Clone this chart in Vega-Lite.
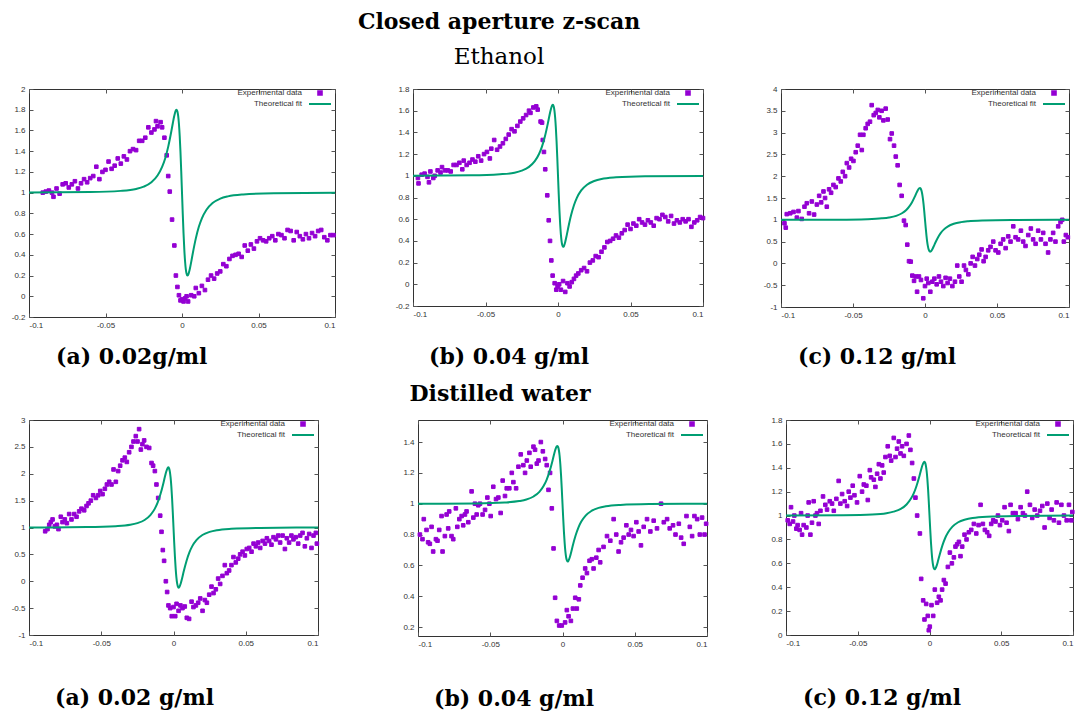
{
"$schema": "https://vega.github.io/schema/vega-lite/v6.json",
"background": "white",
"padding": {"left": 4, "top": 10, "right": 0, "bottom": 0},
"title": {"text": "Closed aperture z-scan", "subtitle": "Ethanol", "orient": "top", "anchor": "middle", "font": "DejaVu Serif", "fontSize": 22, "fontWeight": "bold", "color": "black", "subtitleFont": "DejaVu Serif", "subtitleFontSize": 23, "subtitleFontWeight": "normal", "subtitleColor": "black", "subtitlePadding": 12, "dx": -42, "offset": 15},
"datasets": {
"e1": [{"z":-0.091,"T":1.0},{"z":-0.089,"T":1.01},{"z":-0.087,"T":1.02},{"z":-0.085,"T":1.0},{"z":-0.084,"T":0.96},{"z":-0.082,"T":1.04},{"z":-0.08,"T":0.99},{"z":-0.078,"T":1.08},{"z":-0.076,"T":1.09},{"z":-0.074,"T":1.05},{"z":-0.072,"T":1.08},{"z":-0.07,"T":1.11},{"z":-0.068,"T":1.04},{"z":-0.066,"T":1.09},{"z":-0.064,"T":1.13},{"z":-0.062,"T":1.1},{"z":-0.06,"T":1.14},{"z":-0.058,"T":1.16},{"z":-0.056,"T":1.25},{"z":-0.054,"T":1.13},{"z":-0.052,"T":1.2},{"z":-0.05,"T":1.22},{"z":-0.048,"T":1.3},{"z":-0.046,"T":1.23},{"z":-0.044,"T":1.26},{"z":-0.042,"T":1.33},{"z":-0.04,"T":1.28},{"z":-0.038,"T":1.35},{"z":-0.036,"T":1.32},{"z":-0.034,"T":1.4},{"z":-0.032,"T":1.42},{"z":-0.03,"T":1.41},{"z":-0.028,"T":1.5},{"z":-0.026,"T":1.5},{"z":-0.024,"T":1.53},{"z":-0.022,"T":1.63},{"z":-0.02,"T":1.58},{"z":-0.018,"T":1.61},{"z":-0.017,"T":1.69},{"z":-0.016,"T":1.64},{"z":-0.014,"T":1.68},{"z":-0.013,"T":1.63},{"z":-0.0115,"T":1.53},{"z":-0.01,"T":1.36},{"z":-0.009,"T":1.16},{"z":-0.008,"T":1.01},{"z":-0.0065,"T":0.74},{"z":-0.005,"T":0.49},{"z":-0.004,"T":0.2},{"z":-0.003,"T":0.09},{"z":-0.002,"T":0.01},{"z":-0.001,"T":-0.04},{"z":0.0,"T":-0.03},{"z":0.001,"T":-0.05},{"z":0.002,"T":-0.02},{"z":0.003,"T":0.0},{"z":0.004,"T":-0.05},{"z":0.006,"T":0.01},{"z":0.008,"T":0.0},{"z":0.009,"T":0.08},{"z":0.011,"T":0.03},{"z":0.013,"T":0.1},{"z":0.015,"T":0.06},{"z":0.017,"T":0.16},{"z":0.019,"T":0.2},{"z":0.021,"T":0.17},{"z":0.023,"T":0.22},{"z":0.025,"T":0.24},{"z":0.027,"T":0.31},{"z":0.029,"T":0.29},{"z":0.031,"T":0.36},{"z":0.033,"T":0.39},{"z":0.035,"T":0.4},{"z":0.037,"T":0.41},{"z":0.039,"T":0.38},{"z":0.041,"T":0.49},{"z":0.043,"T":0.44},{"z":0.045,"T":0.5},{"z":0.047,"T":0.46},{"z":0.049,"T":0.53},{"z":0.051,"T":0.56},{"z":0.053,"T":0.54},{"z":0.055,"T":0.53},{"z":0.057,"T":0.56},{"z":0.059,"T":0.58},{"z":0.061,"T":0.54},{"z":0.063,"T":0.6},{"z":0.065,"T":0.59},{"z":0.067,"T":0.56},{"z":0.069,"T":0.64},{"z":0.071,"T":0.63},{"z":0.073,"T":0.54},{"z":0.075,"T":0.62},{"z":0.077,"T":0.58},{"z":0.079,"T":0.55},{"z":0.081,"T":0.6},{"z":0.083,"T":0.56},{"z":0.085,"T":0.61},{"z":0.087,"T":0.58},{"z":0.089,"T":0.63},{"z":0.091,"T":0.64},{"z":0.093,"T":0.57},{"z":0.095,"T":0.54},{"z":0.097,"T":0.59},{"z":0.099,"T":0.59}],
"e2": [{"z":-0.0966,"T":0.98},{"z":-0.0962,"T":0.93},{"z":-0.094,"T":1.01},{"z":-0.092,"T":1.02},{"z":-0.09,"T":0.99},{"z":-0.089,"T":0.94},{"z":-0.088,"T":1.04},{"z":-0.086,"T":0.98},{"z":-0.085,"T":1.0},{"z":-0.083,"T":1.05},{"z":-0.081,"T":1.03},{"z":-0.08,"T":1.08},{"z":-0.078,"T":1.05},{"z":-0.076,"T":1.05},{"z":-0.074,"T":1.04},{"z":-0.072,"T":1.1},{"z":-0.07,"T":1.1},{"z":-0.068,"T":1.12},{"z":-0.066,"T":1.06},{"z":-0.065,"T":1.14},{"z":-0.063,"T":1.1},{"z":-0.061,"T":1.12},{"z":-0.059,"T":1.15},{"z":-0.057,"T":1.13},{"z":-0.055,"T":1.18},{"z":-0.053,"T":1.14},{"z":-0.051,"T":1.2},{"z":-0.049,"T":1.22},{"z":-0.047,"T":1.16},{"z":-0.046,"T":1.25},{"z":-0.044,"T":1.33},{"z":-0.042,"T":1.24},{"z":-0.04,"T":1.27},{"z":-0.038,"T":1.3},{"z":-0.036,"T":1.34},{"z":-0.034,"T":1.38},{"z":-0.032,"T":1.43},{"z":-0.03,"T":1.41},{"z":-0.028,"T":1.46},{"z":-0.026,"T":1.5},{"z":-0.024,"T":1.53},{"z":-0.022,"T":1.56},{"z":-0.02,"T":1.6},{"z":-0.019,"T":1.58},{"z":-0.017,"T":1.63},{"z":-0.015,"T":1.64},{"z":-0.014,"T":1.61},{"z":-0.012,"T":1.5},{"z":-0.011,"T":1.49},{"z":-0.0105,"T":1.33},{"z":-0.0097,"T":1.22},{"z":-0.0088,"T":1.06},{"z":-0.0074,"T":0.82},{"z":-0.0064,"T":0.59},{"z":-0.0055,"T":0.4},{"z":-0.0046,"T":0.22},{"z":-0.0037,"T":0.08},{"z":-0.0023,"T":0.01},{"z":-0.0012,"T":-0.05},{"z":-0.0003,"T":-0.02},{"z":0.0008,"T":0.0},{"z":0.002,"T":-0.05},{"z":0.0035,"T":0.03},{"z":0.005,"T":-0.07},{"z":0.0065,"T":0.01},{"z":0.008,"T":-0.02},{"z":0.0095,"T":0.02},{"z":0.011,"T":0.05},{"z":0.0125,"T":0.08},{"z":0.014,"T":0.1},{"z":0.016,"T":0.13},{"z":0.018,"T":0.15},{"z":0.02,"T":0.12},{"z":0.022,"T":0.2},{"z":0.024,"T":0.22},{"z":0.026,"T":0.26},{"z":0.028,"T":0.25},{"z":0.03,"T":0.3},{"z":0.032,"T":0.34},{"z":0.034,"T":0.39},{"z":0.036,"T":0.4},{"z":0.038,"T":0.42},{"z":0.04,"T":0.45},{"z":0.042,"T":0.43},{"z":0.044,"T":0.47},{"z":0.046,"T":0.5},{"z":0.048,"T":0.55},{"z":0.05,"T":0.51},{"z":0.052,"T":0.56},{"z":0.054,"T":0.54},{"z":0.056,"T":0.6},{"z":0.058,"T":0.57},{"z":0.06,"T":0.55},{"z":0.062,"T":0.59},{"z":0.064,"T":0.57},{"z":0.066,"T":0.54},{"z":0.068,"T":0.61},{"z":0.07,"T":0.6},{"z":0.072,"T":0.64},{"z":0.074,"T":0.62},{"z":0.076,"T":0.58},{"z":0.078,"T":0.63},{"z":0.08,"T":0.56},{"z":0.082,"T":0.59},{"z":0.084,"T":0.57},{"z":0.086,"T":0.6},{"z":0.088,"T":0.58},{"z":0.09,"T":0.6},{"z":0.092,"T":0.53},{"z":0.094,"T":0.57},{"z":0.096,"T":0.59},{"z":0.098,"T":0.62},{"z":0.1,"T":0.61}],
"e3": [{"z":-0.0976,"T":0.92},{"z":-0.0967,"T":0.82},{"z":-0.096,"T":1.13},{"z":-0.0936,"T":1.15},{"z":-0.0913,"T":1.18},{"z":-0.089,"T":1.05},{"z":-0.0879,"T":1.2},{"z":-0.0856,"T":1.02},{"z":-0.0837,"T":1.3},{"z":-0.0821,"T":1.38},{"z":-0.0805,"T":1.15},{"z":-0.0786,"T":1.42},{"z":-0.077,"T":1.12},{"z":-0.0751,"T":1.35},{"z":-0.0735,"T":1.55},{"z":-0.0721,"T":1.4},{"z":-0.0705,"T":1.65},{"z":-0.0694,"T":1.5},{"z":-0.0682,"T":1.3},{"z":-0.0666,"T":1.7},{"z":-0.0652,"T":1.62},{"z":-0.0636,"T":1.8},{"z":-0.062,"T":1.75},{"z":-0.0601,"T":1.95},{"z":-0.0585,"T":1.88},{"z":-0.0571,"T":2.1},{"z":-0.0555,"T":2.0},{"z":-0.0543,"T":2.3},{"z":-0.0527,"T":2.2},{"z":-0.0513,"T":2.4},{"z":-0.0497,"T":2.35},{"z":-0.0481,"T":2.55},{"z":-0.0467,"T":2.7},{"z":-0.0451,"T":2.95},{"z":-0.0439,"T":2.6},{"z":-0.0428,"T":2.95},{"z":-0.0412,"T":3.1},{"z":-0.0398,"T":3.2},{"z":-0.0382,"T":3.25},{"z":-0.037,"T":3.63},{"z":-0.0356,"T":3.4},{"z":-0.0342,"T":3.45},{"z":-0.0328,"T":3.52},{"z":-0.0317,"T":3.35},{"z":-0.0301,"T":3.5},{"z":-0.0289,"T":3.28},{"z":-0.0273,"T":3.55},{"z":-0.0259,"T":3.3},{"z":-0.0243,"T":2.85},{"z":-0.0231,"T":2.98},{"z":-0.0215,"T":2.7},{"z":-0.0203,"T":2.45},{"z":-0.019,"T":2.25},{"z":-0.0176,"T":1.8},{"z":-0.0162,"T":1.55},{"z":-0.0146,"T":0.98},{"z":-0.0134,"T":0.88},{"z":-0.0123,"T":0.43},{"z":-0.0111,"T":0.05},{"z":-0.0099,"T":0.04},{"z":-0.0088,"T":-0.28},{"z":-0.0076,"T":-0.4},{"z":-0.0065,"T":-0.3},{"z":-0.0055,"T":-0.65},{"z":-0.0042,"T":-0.3},{"z":-0.0028,"T":-0.38},{"z":-0.0012,"T":-0.8},{"z":0.0,"T":-0.52},{"z":0.0012,"T":-0.35},{"z":0.0023,"T":-0.45},{"z":0.0037,"T":-0.65},{"z":0.0051,"T":-0.42},{"z":0.0065,"T":-0.35},{"z":0.0081,"T":-0.48},{"z":0.0097,"T":-0.3},{"z":0.0111,"T":-0.42},{"z":0.0127,"T":-0.52},{"z":0.0143,"T":-0.33},{"z":0.0157,"T":-0.45},{"z":0.0173,"T":-0.35},{"z":0.019,"T":-0.52},{"z":0.0208,"T":-0.42},{"z":0.0224,"T":-0.05},{"z":0.0238,"T":-0.3},{"z":0.0254,"T":-0.42},{"z":0.0271,"T":-0.05},{"z":0.0284,"T":-0.15},{"z":0.0301,"T":-0.25},{"z":0.0317,"T":0.0},{"z":0.0331,"T":0.15},{"z":0.0347,"T":-0.05},{"z":0.0363,"T":0.1},{"z":0.0377,"T":0.2},{"z":0.0393,"T":0.32},{"z":0.0407,"T":0.05},{"z":0.0421,"T":0.15},{"z":0.0439,"T":0.3},{"z":0.0455,"T":0.38},{"z":0.0474,"T":0.5},{"z":0.049,"T":0.3},{"z":0.0509,"T":0.25},{"z":0.0525,"T":0.45},{"z":0.0543,"T":0.55},{"z":0.056,"T":0.35},{"z":0.0578,"T":0.62},{"z":0.0594,"T":0.5},{"z":0.0613,"T":0.85},{"z":0.0629,"T":0.6},{"z":0.0647,"T":0.55},{"z":0.0666,"T":0.75},{"z":0.0682,"T":0.5},{"z":0.0698,"T":0.4},{"z":0.0717,"T":0.65},{"z":0.0735,"T":0.8},{"z":0.0751,"T":0.55},{"z":0.0768,"T":0.45},{"z":0.0786,"T":0.75},{"z":0.0805,"T":0.55},{"z":0.0821,"T":0.7},{"z":0.0837,"T":0.45},{"z":0.0855,"T":0.25},{"z":0.0871,"T":0.55},{"z":0.089,"T":0.7},{"z":0.0906,"T":0.5},{"z":0.0925,"T":0.85},{"z":0.0941,"T":0.95},{"z":0.0953,"T":1.0},{"z":0.0964,"T":0.5},{"z":0.0978,"T":0.65},{"z":0.0992,"T":0.6}],
"e4": [{"z":-0.0888,"T":0.93},{"z":-0.0872,"T":0.97},{"z":-0.086,"T":1.05},{"z":-0.0849,"T":1.1},{"z":-0.0837,"T":1.15},{"z":-0.0821,"T":1.02},{"z":-0.0807,"T":1.05},{"z":-0.0796,"T":0.97},{"z":-0.078,"T":1.2},{"z":-0.0768,"T":1.1},{"z":-0.0752,"T":1.15},{"z":-0.0738,"T":1.08},{"z":-0.0722,"T":1.25},{"z":-0.0706,"T":1.15},{"z":-0.0687,"T":1.25},{"z":-0.0671,"T":1.2},{"z":-0.0653,"T":1.3},{"z":-0.0637,"T":1.35},{"z":-0.0618,"T":1.32},{"z":-0.0602,"T":1.4},{"z":-0.0588,"T":1.45},{"z":-0.0572,"T":1.5},{"z":-0.0556,"T":1.6},{"z":-0.0537,"T":1.55},{"z":-0.0521,"T":1.6},{"z":-0.0507,"T":1.68},{"z":-0.0491,"T":1.62},{"z":-0.0475,"T":1.72},{"z":-0.0461,"T":1.8},{"z":-0.0445,"T":1.85},{"z":-0.0429,"T":1.8},{"z":-0.0415,"T":2.08},{"z":-0.0399,"T":1.85},{"z":-0.0383,"T":2.05},{"z":-0.0369,"T":2.15},{"z":-0.0353,"T":2.25},{"z":-0.0337,"T":2.3},{"z":-0.0323,"T":2.22},{"z":-0.0307,"T":2.4},{"z":-0.0291,"T":2.5},{"z":-0.0277,"T":2.6},{"z":-0.0261,"T":2.7},{"z":-0.0249,"T":2.6},{"z":-0.0238,"T":2.83},{"z":-0.0226,"T":2.45},{"z":-0.0215,"T":2.55},{"z":-0.0203,"T":2.62},{"z":-0.0187,"T":2.5},{"z":-0.0168,"T":2.48},{"z":-0.0152,"T":2.2},{"z":-0.0141,"T":2.15},{"z":-0.0129,"T":2.05},{"z":-0.0118,"T":1.8},{"z":-0.0106,"T":1.55},{"z":-0.0092,"T":1.22},{"z":-0.0083,"T":0.92},{"z":-0.0074,"T":0.58},{"z":-0.0065,"T":0.38},{"z":-0.0053,"T":0.0},{"z":-0.0044,"T":-0.2},{"z":-0.0035,"T":-0.45},{"z":-0.0023,"T":-0.5},{"z":-0.0012,"T":-0.65},{"z":0.0,"T":-0.48},{"z":0.0012,"T":-0.65},{"z":0.0021,"T":-0.42},{"z":0.0035,"T":-0.55},{"z":0.0048,"T":-0.45},{"z":0.0062,"T":-0.5},{"z":0.0078,"T":-0.47},{"z":0.0092,"T":-0.68},{"z":0.0108,"T":-0.7},{"z":0.0125,"T":-0.38},{"z":0.0138,"T":-0.48},{"z":0.0155,"T":-0.45},{"z":0.0171,"T":-0.4},{"z":0.0185,"T":-0.32},{"z":0.0201,"T":-0.55},{"z":0.0217,"T":-0.35},{"z":0.0231,"T":-0.4},{"z":0.0247,"T":-0.25},{"z":0.0263,"T":-0.1},{"z":0.0277,"T":-0.22},{"z":0.0293,"T":-0.15},{"z":0.0309,"T":0.05},{"z":0.0323,"T":-0.05},{"z":0.0339,"T":0.1},{"z":0.0355,"T":0.3},{"z":0.0369,"T":0.15},{"z":0.0385,"T":0.2},{"z":0.0401,"T":0.3},{"z":0.0415,"T":0.45},{"z":0.0431,"T":0.35},{"z":0.0448,"T":0.42},{"z":0.0461,"T":0.5},{"z":0.0478,"T":0.55},{"z":0.0494,"T":0.48},{"z":0.0507,"T":0.6},{"z":0.0524,"T":0.62},{"z":0.054,"T":0.55},{"z":0.0554,"T":0.7},{"z":0.057,"T":0.65},{"z":0.0586,"T":0.72},{"z":0.06,"T":0.62},{"z":0.0617,"T":0.75},{"z":0.0633,"T":0.7},{"z":0.0646,"T":0.8},{"z":0.0662,"T":0.75},{"z":0.0678,"T":0.68},{"z":0.0692,"T":0.82},{"z":0.0709,"T":0.78},{"z":0.0725,"T":0.85},{"z":0.0738,"T":0.72},{"z":0.0755,"T":0.85},{"z":0.0771,"T":0.6},{"z":0.0784,"T":0.8},{"z":0.08,"T":0.72},{"z":0.0816,"T":0.85},{"z":0.083,"T":0.78},{"z":0.0846,"T":0.82},{"z":0.0863,"T":0.7},{"z":0.0877,"T":0.85},{"z":0.0893,"T":0.9},{"z":0.0909,"T":0.65},{"z":0.0923,"T":0.8},{"z":0.0939,"T":0.88},{"z":0.0955,"T":0.62},{"z":0.0969,"T":0.85},{"z":0.0985,"T":0.9},{"z":0.0992,"T":0.7}],
"e5": [{"z":-0.0987,"T":0.8},{"z":-0.0969,"T":0.77},{"z":-0.096,"T":0.9},{"z":-0.0941,"T":0.83},{"z":-0.093,"T":0.75},{"z":-0.0918,"T":0.74},{"z":-0.0906,"T":0.85},{"z":-0.0895,"T":0.69},{"z":-0.0876,"T":0.77},{"z":-0.0865,"T":0.76},{"z":-0.0853,"T":0.83},{"z":-0.0837,"T":0.92},{"z":-0.083,"T":0.69},{"z":-0.0814,"T":0.79},{"z":-0.0802,"T":0.93},{"z":-0.0791,"T":0.84},{"z":-0.0784,"T":0.95},{"z":-0.0768,"T":0.79},{"z":-0.0756,"T":0.77},{"z":-0.0738,"T":0.97},{"z":-0.0728,"T":0.85},{"z":-0.0714,"T":0.9},{"z":-0.0698,"T":0.92},{"z":-0.0687,"T":0.86},{"z":-0.0675,"T":0.93},{"z":-0.0664,"T":0.95},{"z":-0.0652,"T":0.88},{"z":-0.0629,"T":1.08},{"z":-0.0617,"T":0.91},{"z":-0.0606,"T":1.0},{"z":-0.0594,"T":0.93},{"z":-0.0583,"T":0.99},{"z":-0.0571,"T":1.0},{"z":-0.0553,"T":0.93},{"z":-0.0536,"T":0.96},{"z":-0.052,"T":1.04},{"z":-0.0506,"T":1.0},{"z":-0.0497,"T":0.92},{"z":-0.0479,"T":1.11},{"z":-0.046,"T":1.03},{"z":-0.0444,"T":1.04},{"z":-0.0428,"T":0.94},{"z":-0.0414,"T":1.15},{"z":-0.0398,"T":1.05},{"z":-0.0386,"T":1.1},{"z":-0.0368,"T":1.1},{"z":-0.0351,"T":1.2},{"z":-0.034,"T":1.14},{"z":-0.0321,"T":1.1},{"z":-0.0305,"T":1.24},{"z":-0.0289,"T":1.32},{"z":-0.0271,"T":1.25},{"z":-0.0259,"T":1.2},{"z":-0.0247,"T":1.28},{"z":-0.0229,"T":1.33},{"z":-0.022,"T":1.24},{"z":-0.0201,"T":1.37},{"z":-0.019,"T":1.35},{"z":-0.0178,"T":1.26},{"z":-0.0166,"T":1.28},{"z":-0.015,"T":1.4},{"z":-0.0136,"T":1.34},{"z":-0.012,"T":1.29},{"z":-0.0109,"T":1.25},{"z":-0.0097,"T":1.09},{"z":-0.0086,"T":1.2},{"z":-0.0074,"T":0.97},{"z":-0.0062,"T":0.71},{"z":-0.0051,"T":0.39},{"z":-0.0039,"T":0.24},{"z":-0.0023,"T":0.21},{"z":-0.0005,"T":0.21},{"z":0.0018,"T":0.23},{"z":0.003,"T":0.31},{"z":0.0042,"T":0.27},{"z":0.0058,"T":0.24},{"z":0.0072,"T":0.32},{"z":0.0088,"T":0.39},{"z":0.0099,"T":0.32},{"z":0.0113,"T":0.38},{"z":0.0123,"T":0.47},{"z":0.0139,"T":0.52},{"z":0.0157,"T":0.58},{"z":0.0169,"T":0.55},{"z":0.0187,"T":0.63},{"z":0.0203,"T":0.64},{"z":0.0215,"T":0.58},{"z":0.0234,"T":0.65},{"z":0.025,"T":0.7},{"z":0.0261,"T":0.62},{"z":0.0284,"T":0.72},{"z":0.0308,"T":0.79},{"z":0.0331,"T":0.76},{"z":0.0354,"T":0.9},{"z":0.0372,"T":0.8},{"z":0.0388,"T":0.69},{"z":0.0405,"T":0.75},{"z":0.0423,"T":0.78},{"z":0.0442,"T":0.86},{"z":0.0458,"T":0.8},{"z":0.0474,"T":0.83},{"z":0.0492,"T":0.79},{"z":0.0511,"T":0.88},{"z":0.0527,"T":0.82},{"z":0.0543,"T":0.73},{"z":0.0562,"T":0.85},{"z":0.0585,"T":0.9},{"z":0.0608,"T":0.82},{"z":0.0631,"T":0.89},{"z":0.0654,"T":0.84},{"z":0.0682,"T":1.0},{"z":0.0701,"T":0.88},{"z":0.0724,"T":0.9},{"z":0.0742,"T":0.84},{"z":0.0765,"T":0.86},{"z":0.0782,"T":0.8},{"z":0.0805,"T":0.87},{"z":0.0821,"T":0.78},{"z":0.0839,"T":0.74},{"z":0.0858,"T":0.92},{"z":0.0881,"T":0.85},{"z":0.0897,"T":0.79},{"z":0.0913,"T":0.92},{"z":0.0932,"T":0.9},{"z":0.095,"T":0.8},{"z":0.0966,"T":0.91},{"z":0.0983,"T":0.8},{"z":0.0994,"T":0.87}],
"e6": [{"z":-0.0988,"T":0.96},{"z":-0.0974,"T":0.93},{"z":-0.0965,"T":1.07},{"z":-0.0951,"T":0.95},{"z":-0.0942,"T":1.0},{"z":-0.0928,"T":0.89},{"z":-0.0919,"T":0.92},{"z":-0.0905,"T":0.88},{"z":-0.0895,"T":1.02},{"z":-0.0888,"T":0.84},{"z":-0.0877,"T":0.92},{"z":-0.0858,"T":0.9},{"z":-0.0849,"T":1.0},{"z":-0.0842,"T":1.11},{"z":-0.083,"T":0.84},{"z":-0.0819,"T":0.94},{"z":-0.0807,"T":1.12},{"z":-0.0795,"T":1.0},{"z":-0.0784,"T":1.02},{"z":-0.0772,"T":0.93},{"z":-0.076,"T":1.04},{"z":-0.0742,"T":1.16},{"z":-0.0726,"T":1.09},{"z":-0.0714,"T":1.05},{"z":-0.0695,"T":1.12},{"z":-0.0679,"T":1.1},{"z":-0.0667,"T":1.04},{"z":-0.0649,"T":1.14},{"z":-0.0633,"T":1.29},{"z":-0.0621,"T":1.1},{"z":-0.0609,"T":1.18},{"z":-0.0591,"T":1.12},{"z":-0.0574,"T":1.08},{"z":-0.0563,"T":1.2},{"z":-0.0551,"T":1.15},{"z":-0.0535,"T":1.25},{"z":-0.0523,"T":1.17},{"z":-0.0505,"T":1.11},{"z":-0.0486,"T":1.33},{"z":-0.047,"T":1.2},{"z":-0.0458,"T":1.26},{"z":-0.044,"T":1.25},{"z":-0.043,"T":1.13},{"z":-0.0416,"T":1.38},{"z":-0.0407,"T":1.32},{"z":-0.0388,"T":1.3},{"z":-0.0377,"T":1.24},{"z":-0.0365,"T":1.35},{"z":-0.0353,"T":1.43},{"z":-0.0342,"T":1.31},{"z":-0.033,"T":1.42},{"z":-0.0319,"T":1.36},{"z":-0.0307,"T":1.49},{"z":-0.0291,"T":1.58},{"z":-0.0277,"T":1.5},{"z":-0.0267,"T":1.46},{"z":-0.0249,"T":1.65},{"z":-0.0237,"T":1.49},{"z":-0.0226,"T":1.56},{"z":-0.0214,"T":1.62},{"z":-0.0202,"T":1.52},{"z":-0.0191,"T":1.58},{"z":-0.0179,"T":1.5},{"z":-0.016,"T":1.6},{"z":-0.0144,"T":1.67},{"z":-0.0133,"T":1.55},{"z":-0.0121,"T":1.44},{"z":-0.0109,"T":1.31},{"z":-0.0098,"T":1.15},{"z":-0.0086,"T":1.0},{"z":-0.0067,"T":0.85},{"z":-0.0058,"T":0.47},{"z":-0.0044,"T":0.29},{"z":-0.0035,"T":0.13},{"z":-0.0023,"T":0.26},{"z":-0.0012,"T":0.16},{"z":-0.0005,"T":0.04},{"z":0.0002,"T":0.07},{"z":0.0014,"T":0.25},{"z":0.0026,"T":0.16},{"z":0.0037,"T":0.38},{"z":0.0053,"T":0.27},{"z":0.0065,"T":0.32},{"z":0.0077,"T":0.29},{"z":0.0088,"T":0.38},{"z":0.01,"T":0.46},{"z":0.0112,"T":0.43},{"z":0.0128,"T":0.57},{"z":0.0142,"T":0.69},{"z":0.0156,"T":0.6},{"z":0.017,"T":0.65},{"z":0.0181,"T":0.74},{"z":0.0193,"T":0.76},{"z":0.0205,"T":0.78},{"z":0.0216,"T":0.66},{"z":0.0228,"T":0.74},{"z":0.0244,"T":0.84},{"z":0.0258,"T":0.8},{"z":0.0274,"T":0.86},{"z":0.0291,"T":0.88},{"z":0.0309,"T":0.93},{"z":0.0326,"T":0.85},{"z":0.0342,"T":0.92},{"z":0.0356,"T":1.09},{"z":0.0372,"T":0.93},{"z":0.0386,"T":0.88},{"z":0.0402,"T":0.86},{"z":0.0416,"T":0.83},{"z":0.043,"T":0.93},{"z":0.0444,"T":0.96},{"z":0.046,"T":0.95},{"z":0.0477,"T":1.0},{"z":0.0491,"T":0.92},{"z":0.0507,"T":0.96},{"z":0.0523,"T":1.07},{"z":0.0537,"T":0.94},{"z":0.0553,"T":0.87},{"z":0.0565,"T":1.09},{"z":0.0581,"T":1.02},{"z":0.06,"T":1.02},{"z":0.0616,"T":0.97},{"z":0.0635,"T":1.07},{"z":0.0651,"T":1.02},{"z":0.0665,"T":1.0},{"z":0.0681,"T":1.2},{"z":0.07,"T":1.09},{"z":0.0716,"T":0.98},{"z":0.0733,"T":1.05},{"z":0.0751,"T":1.0},{"z":0.077,"T":1.04},{"z":0.0786,"T":1.08},{"z":0.0802,"T":0.9},{"z":0.0821,"T":1.1},{"z":0.0837,"T":0.98},{"z":0.0851,"T":1.05},{"z":0.0867,"T":0.96},{"z":0.0886,"T":1.11},{"z":0.0902,"T":0.94},{"z":0.0919,"T":1.09},{"z":0.0937,"T":1.0},{"z":0.0956,"T":0.96},{"z":0.0972,"T":1.09},{"z":0.0988,"T":0.96},{"z":0.0995,"T":1.03}],
"f1": [{"z":-0.1,"T":1.001},{"z":-0.06,"T":1.005},{"z":-0.04,"T":1.017},{"z":-0.03,"T":1.036},{"z":-0.025,"T":1.058},{"z":-0.02,"T":1.1},{"z":-0.016,"T":1.165},{"z":-0.013,"T":1.248},{"z":-0.011,"T":1.33},{"z":-0.009,"T":1.444},{"z":-0.007,"T":1.59},{"z":-0.006,"T":1.67},{"z":-0.005,"T":1.744},{"z":-0.004,"T":1.794},{"z":-0.0035,"T":1.8},{"z":-0.003,"T":1.783},{"z":-0.0025,"T":1.74},{"z":-0.002,"T":1.662},{"z":-0.0015,"T":1.546},{"z":-0.001,"T":1.392},{"z":-0.0005,"T":1.205},{"z":0,"T":1},{"z":0.0005,"T":0.795},{"z":0.001,"T":0.608},{"z":0.0015,"T":0.454},{"z":0.002,"T":0.338},{"z":0.0025,"T":0.26},{"z":0.003,"T":0.217},{"z":0.0035,"T":0.2},{"z":0.004,"T":0.206},{"z":0.005,"T":0.256},{"z":0.006,"T":0.33},{"z":0.007,"T":0.41},{"z":0.009,"T":0.556},{"z":0.011,"T":0.67},{"z":0.013,"T":0.752},{"z":0.016,"T":0.835},{"z":0.02,"T":0.9},{"z":0.025,"T":0.942},{"z":0.03,"T":0.964},{"z":0.04,"T":0.983},{"z":0.06,"T":0.995},{"z":0.1,"T":0.999}],
"f2": [{"z":-0.1,"T":1.001},{"z":-0.06,"T":1.004},{"z":-0.04,"T":1.014},{"z":-0.03,"T":1.029},{"z":-0.025,"T":1.048},{"z":-0.02,"T":1.082},{"z":-0.016,"T":1.135},{"z":-0.013,"T":1.203},{"z":-0.011,"T":1.271},{"z":-0.009,"T":1.364},{"z":-0.007,"T":1.483},{"z":-0.006,"T":1.549},{"z":-0.005,"T":1.609},{"z":-0.004,"T":1.65},{"z":-0.0035,"T":1.655},{"z":-0.003,"T":1.641},{"z":-0.0025,"T":1.606},{"z":-0.002,"T":1.542},{"z":-0.0015,"T":1.447},{"z":-0.001,"T":1.321},{"z":-0.0005,"T":1.168},{"z":0,"T":1},{"z":0.0005,"T":0.832},{"z":0.001,"T":0.679},{"z":0.0015,"T":0.553},{"z":0.002,"T":0.458},{"z":0.0025,"T":0.394},{"z":0.003,"T":0.359},{"z":0.0035,"T":0.345},{"z":0.004,"T":0.35},{"z":0.005,"T":0.391},{"z":0.006,"T":0.451},{"z":0.007,"T":0.517},{"z":0.009,"T":0.636},{"z":0.011,"T":0.729},{"z":0.013,"T":0.797},{"z":0.016,"T":0.865},{"z":0.02,"T":0.918},{"z":0.025,"T":0.952},{"z":0.03,"T":0.971},{"z":0.04,"T":0.986},{"z":0.06,"T":0.996},{"z":0.1,"T":0.999}],
"f3": [{"z":-0.1,"T":1.001},{"z":-0.06,"T":1.004},{"z":-0.04,"T":1.015},{"z":-0.03,"T":1.033},{"z":-0.025,"T":1.053},{"z":-0.02,"T":1.091},{"z":-0.016,"T":1.15},{"z":-0.013,"T":1.226},{"z":-0.011,"T":1.301},{"z":-0.009,"T":1.405},{"z":-0.007,"T":1.538},{"z":-0.006,"T":1.612},{"z":-0.005,"T":1.679},{"z":-0.004,"T":1.724},{"z":-0.0035,"T":1.73},{"z":-0.003,"T":1.715},{"z":-0.0025,"T":1.675},{"z":-0.002,"T":1.604},{"z":-0.0015,"T":1.499},{"z":-0.001,"T":1.358},{"z":-0.0005,"T":1.187},{"z":0,"T":1},{"z":0.0005,"T":0.813},{"z":0.001,"T":0.642},{"z":0.0015,"T":0.501},{"z":0.002,"T":0.396},{"z":0.0025,"T":0.325},{"z":0.003,"T":0.285},{"z":0.0035,"T":0.27},{"z":0.004,"T":0.276},{"z":0.005,"T":0.321},{"z":0.006,"T":0.388},{"z":0.007,"T":0.462},{"z":0.009,"T":0.595},{"z":0.011,"T":0.699},{"z":0.013,"T":0.774},{"z":0.016,"T":0.85},{"z":0.02,"T":0.909},{"z":0.025,"T":0.947},{"z":0.03,"T":0.967},{"z":0.04,"T":0.985},{"z":0.06,"T":0.996},{"z":0.1,"T":0.999}],
"f4": [{"z":-0.1,"T":1.001},{"z":-0.06,"T":1.007},{"z":-0.04,"T":1.024},{"z":-0.03,"T":1.05},{"z":-0.025,"T":1.082},{"z":-0.02,"T":1.14},{"z":-0.016,"T":1.231},{"z":-0.013,"T":1.347},{"z":-0.011,"T":1.463},{"z":-0.009,"T":1.622},{"z":-0.007,"T":1.825},{"z":-0.006,"T":1.939},{"z":-0.005,"T":2.042},{"z":-0.004,"T":2.111},{"z":-0.0035,"T":2.12},{"z":-0.003,"T":2.096},{"z":-0.0025,"T":2.036},{"z":-0.002,"T":1.927},{"z":-0.0015,"T":1.765},{"z":-0.001,"T":1.549},{"z":-0.0005,"T":1.287},{"z":0,"T":1},{"z":0.0005,"T":0.713},{"z":0.001,"T":0.451},{"z":0.0015,"T":0.235},{"z":0.002,"T":0.073},{"z":0.0025,"T":-0.036},{"z":0.003,"T":-0.096},{"z":0.0035,"T":-0.12},{"z":0.004,"T":-0.111},{"z":0.005,"T":-0.042},{"z":0.006,"T":0.061},{"z":0.007,"T":0.175},{"z":0.009,"T":0.378},{"z":0.011,"T":0.537},{"z":0.013,"T":0.653},{"z":0.016,"T":0.769},{"z":0.02,"T":0.86},{"z":0.025,"T":0.918},{"z":0.03,"T":0.95},{"z":0.04,"T":0.976},{"z":0.06,"T":0.993},{"z":0.1,"T":0.999}],
"f5": [{"z":-0.1,"T":1.0},{"z":-0.06,"T":1.002},{"z":-0.04,"T":1.008},{"z":-0.03,"T":1.017},{"z":-0.025,"T":1.027},{"z":-0.02,"T":1.047},{"z":-0.016,"T":1.077},{"z":-0.013,"T":1.116},{"z":-0.011,"T":1.155},{"z":-0.009,"T":1.208},{"z":-0.007,"T":1.276},{"z":-0.006,"T":1.314},{"z":-0.005,"T":1.349},{"z":-0.004,"T":1.372},{"z":-0.0035,"T":1.375},{"z":-0.003,"T":1.367},{"z":-0.0025,"T":1.347},{"z":-0.002,"T":1.311},{"z":-0.0015,"T":1.256},{"z":-0.001,"T":1.184},{"z":-0.0005,"T":1.096},{"z":0,"T":1},{"z":0.0005,"T":0.904},{"z":0.001,"T":0.816},{"z":0.0015,"T":0.744},{"z":0.002,"T":0.689},{"z":0.0025,"T":0.653},{"z":0.003,"T":0.633},{"z":0.0035,"T":0.625},{"z":0.004,"T":0.628},{"z":0.005,"T":0.651},{"z":0.006,"T":0.686},{"z":0.007,"T":0.724},{"z":0.009,"T":0.792},{"z":0.011,"T":0.845},{"z":0.013,"T":0.884},{"z":0.016,"T":0.923},{"z":0.02,"T":0.953},{"z":0.025,"T":0.973},{"z":0.03,"T":0.983},{"z":0.04,"T":0.992},{"z":0.06,"T":0.998},{"z":0.1,"T":1.0}],
"f6": [{"z":-0.1,"T":1.0},{"z":-0.06,"T":1.003},{"z":-0.04,"T":1.009},{"z":-0.03,"T":1.02},{"z":-0.025,"T":1.033},{"z":-0.02,"T":1.056},{"z":-0.016,"T":1.093},{"z":-0.013,"T":1.14},{"z":-0.011,"T":1.186},{"z":-0.009,"T":1.25},{"z":-0.007,"T":1.332},{"z":-0.006,"T":1.377},{"z":-0.005,"T":1.419},{"z":-0.004,"T":1.446},{"z":-0.0035,"T":1.45},{"z":-0.003,"T":1.441},{"z":-0.0025,"T":1.416},{"z":-0.002,"T":1.373},{"z":-0.0015,"T":1.307},{"z":-0.001,"T":1.221},{"z":-0.0005,"T":1.115},{"z":0,"T":1},{"z":0.0005,"T":0.885},{"z":0.001,"T":0.779},{"z":0.0015,"T":0.693},{"z":0.002,"T":0.627},{"z":0.0025,"T":0.584},{"z":0.003,"T":0.559},{"z":0.0035,"T":0.55},{"z":0.004,"T":0.554},{"z":0.005,"T":0.581},{"z":0.006,"T":0.623},{"z":0.007,"T":0.668},{"z":0.009,"T":0.75},{"z":0.011,"T":0.814},{"z":0.013,"T":0.86},{"z":0.016,"T":0.907},{"z":0.02,"T":0.944},{"z":0.025,"T":0.967},{"z":0.03,"T":0.98},{"z":0.04,"T":0.991},{"z":0.06,"T":0.997},{"z":0.1,"T":1.0}]
},
"vconcat": [
{"hconcat": [
 {"width": 306, "height": 228, "title": {"text": "(a) 0.02g/ml", "frame": "group", "dx": 27, "offset": 18},
  "layer": [
   {"data": {"name": "e1"}, "mark": {"type": "point", "filled": true, "opacity": 1, "strokeWidth": 1, "size": 64},
    "encoding": {"x": {"field": "z", "type": "quantitative", "scale": {"domain": [-0.1, 0.1], "nice": false, "zero": false}, "axis": {"orient": "bottom", "values": [-0.1, -0.05, 0, 0.05, 0.1], "labelExpr": "'' + datum.value"}},
     "y": {"field": "T", "type": "quantitative", "scale": {"domain": [-0.2, 2], "nice": false, "zero": false}, "axis": {"orient": "left", "values": [-0.2, 0, 0.2, 0.4, 0.6, 0.8, 1, 1.2, 1.4, 1.6, 1.8, 2], "labelExpr": "'' + datum.value", "minExtent": 24, "maxExtent": 24}},
     "fill": {"datum": "Experimental data", "scale": {"domain": ["Experimental data", "Theoretical fit"], "range": ["#9400d3", "#009e73"]}, "legend": {"orient": "none", "legendX": 286, "legendY": -1}},
     "stroke": {"datum": "Experimental data", "scale": {"domain": ["Experimental data", "Theoretical fit"], "range": ["#9400d3", "#009e73"]}},
     "shape": {"datum": "Experimental data", "scale": {"domain": ["Experimental data", "Theoretical fit"], "range": ["M-0.45,-0.45L0.45,-0.45L0.45,0.45L-0.45,0.45Z", "M-2.75,0L2.75,0"]}}}},
   {"data": {"name": "f1"}, "mark": {"type": "line", "strokeWidth": 2, "interpolate": "monotone"},
    "encoding": {"x": {"field": "z", "type": "quantitative", "axis": {"orient": "top", "values": [-0.1, -0.05, 0, 0.05, 0.1], "labels": false, "minExtent": 0, "maxExtent": 0}},
     "y": {"field": "T", "type": "quantitative", "axis": {"orient": "right", "values": [-0.2, 0, 0.2, 0.4, 0.6, 0.8, 1, 1.2, 1.4, 1.6, 1.8, 2], "labels": false, "minExtent": 0, "maxExtent": 0}},
     "stroke": {"datum": "Theoretical fit"}}}
  ],
  "resolve": {"axis": {"x": "independent", "y": "independent"}}},
 {"width": 290, "height": 217, "title": {"text": "(b) 0.04 g/ml", "frame": "group", "dx": 16, "offset": 29},
  "layer": [
   {"data": {"name": "e2"}, "mark": {"type": "point", "filled": true, "opacity": 1, "strokeWidth": 1, "size": 64},
    "encoding": {"x": {"field": "z", "type": "quantitative", "scale": {"domain": [-0.1, 0.1], "nice": false, "zero": false}, "axis": {"orient": "bottom", "values": [-0.1, -0.05, 0, 0.05, 0.1], "labelExpr": "'' + datum.value"}},
     "y": {"field": "T", "type": "quantitative", "scale": {"domain": [-0.2, 1.8], "nice": false, "zero": false}, "axis": {"orient": "left", "values": [-0.2, 0, 0.2, 0.4, 0.6, 0.8, 1, 1.2, 1.4, 1.6, 1.8], "labelExpr": "'' + datum.value", "minExtent": 24, "maxExtent": 24}},
     "fill": {"datum": "Experimental data", "scale": {"domain": ["Experimental data", "Theoretical fit"], "range": ["#9400d3", "#009e73"]}, "legend": {"orient": "none", "legendX": 270, "legendY": -1}},
     "stroke": {"datum": "Experimental data", "scale": {"domain": ["Experimental data", "Theoretical fit"], "range": ["#9400d3", "#009e73"]}},
     "shape": {"datum": "Experimental data", "scale": {"domain": ["Experimental data", "Theoretical fit"], "range": ["M-0.45,-0.45L0.45,-0.45L0.45,0.45L-0.45,0.45Z", "M-2.75,0L2.75,0"]}}}},
   {"data": {"name": "f2"}, "mark": {"type": "line", "strokeWidth": 2, "interpolate": "monotone"},
    "encoding": {"x": {"field": "z", "type": "quantitative", "axis": {"orient": "top", "values": [-0.1, -0.05, 0, 0.05, 0.1], "labels": false, "minExtent": 0, "maxExtent": 0}},
     "y": {"field": "T", "type": "quantitative", "axis": {"orient": "right", "values": [-0.2, 0, 0.2, 0.4, 0.6, 0.8, 1, 1.2, 1.4, 1.6, 1.8], "labels": false, "minExtent": 1, "maxExtent": 1}},
     "stroke": {"datum": "Theoretical fit"}}}
  ],
  "resolve": {"axis": {"x": "independent", "y": "independent"}}},
 {"width": 288, "height": 218, "title": {"text": "(c) 0.12 g/ml", "frame": "group", "dx": 17, "offset": 28},
  "layer": [
   {"data": {"name": "e3"}, "mark": {"type": "point", "filled": true, "opacity": 1, "strokeWidth": 1, "size": 64},
    "encoding": {"x": {"field": "z", "type": "quantitative", "scale": {"domain": [-0.1, 0.1], "nice": false, "zero": false}, "axis": {"orient": "bottom", "values": [-0.1, -0.05, 0, 0.05, 0.1], "labelExpr": "'' + datum.value"}},
     "y": {"field": "T", "type": "quantitative", "scale": {"domain": [-1, 4], "nice": false, "zero": false}, "axis": {"orient": "left", "values": [-1, -0.5, 0, 0.5, 1, 1.5, 2, 2.5, 3, 3.5, 4], "labelExpr": "'' + datum.value", "minExtent": 24, "maxExtent": 24}},
     "fill": {"datum": "Experimental data", "scale": {"domain": ["Experimental data", "Theoretical fit"], "range": ["#9400d3", "#009e73"]}, "legend": {"orient": "none", "legendX": 268, "legendY": -1}},
     "stroke": {"datum": "Experimental data", "scale": {"domain": ["Experimental data", "Theoretical fit"], "range": ["#9400d3", "#009e73"]}},
     "shape": {"datum": "Experimental data", "scale": {"domain": ["Experimental data", "Theoretical fit"], "range": ["M-0.45,-0.45L0.45,-0.45L0.45,0.45L-0.45,0.45Z", "M-2.75,0L2.75,0"]}}}},
   {"data": {"name": "f3"}, "mark": {"type": "line", "strokeWidth": 2, "interpolate": "monotone"},
    "encoding": {"x": {"field": "z", "type": "quantitative", "axis": {"orient": "top", "values": [-0.1, -0.05, 0, 0.05, 0.1], "labels": false, "minExtent": 0, "maxExtent": 0}},
     "y": {"field": "T", "type": "quantitative", "axis": {"orient": "right", "values": [-1, -0.5, 0, 0.5, 1, 1.5, 2, 2.5, 3, 3.5, 4], "labels": false, "minExtent": 0, "maxExtent": 0}},
     "stroke": {"datum": "Theoretical fit"}}}
  ],
  "resolve": {"axis": {"x": "independent", "y": "independent"}}}
 ],
 "spacing": 48,
 "resolve": {"scale": {"fill": "independent", "stroke": "independent", "shape": "independent"}, "legend": {"fill": "independent", "stroke": "independent", "shape": "independent"}}},
{"title": {"text": "Distilled water", "orient": "top", "anchor": "middle", "dx": -42, "offset": 10},
 "hconcat": [
 {"width": 289, "height": 215, "title": {"text": "(a) 0.02 g/ml", "frame": "group", "dx": 26, "offset": 41},
  "layer": [
   {"data": {"name": "e4"}, "mark": {"type": "point", "filled": true, "opacity": 1, "strokeWidth": 1, "size": 64},
    "encoding": {"x": {"field": "z", "type": "quantitative", "scale": {"domain": [-0.1, 0.1], "nice": false, "zero": false}, "axis": {"orient": "bottom", "values": [-0.1, -0.05, 0, 0.05, 0.1], "labelExpr": "'' + datum.value"}},
     "y": {"field": "T", "type": "quantitative", "scale": {"domain": [-1, 3], "nice": false, "zero": false}, "axis": {"orient": "left", "values": [-1, -0.5, 0, 0.5, 1, 1.5, 2, 2.5, 3], "labelExpr": "'' + datum.value", "minExtent": 22, "maxExtent": 22}},
     "fill": {"datum": "Experimental data", "scale": {"domain": ["Experimental data", "Theoretical fit"], "range": ["#9400d3", "#009e73"]}, "legend": {"orient": "none", "legendX": 269, "legendY": -1}},
     "stroke": {"datum": "Experimental data", "scale": {"domain": ["Experimental data", "Theoretical fit"], "range": ["#9400d3", "#009e73"]}},
     "shape": {"datum": "Experimental data", "scale": {"domain": ["Experimental data", "Theoretical fit"], "range": ["M-0.45,-0.45L0.45,-0.45L0.45,0.45L-0.45,0.45Z", "M-2.75,0L2.75,0"]}}}},
   {"data": {"name": "f4"}, "mark": {"type": "line", "strokeWidth": 2, "interpolate": "monotone"},
    "encoding": {"x": {"field": "z", "type": "quantitative", "axis": {"orient": "top", "values": [-0.1, -0.05, 0, 0.05, 0.1], "labels": false, "minExtent": 0, "maxExtent": 0}},
     "y": {"field": "T", "type": "quantitative", "axis": {"orient": "right", "values": [-1, -0.5, 0, 0.5, 1, 1.5, 2, 2.5, 3], "labels": false, "minExtent": 26, "maxExtent": 26}},
     "stroke": {"datum": "Theoretical fit"}}}
  ],
  "resolve": {"axis": {"x": "independent", "y": "independent"}}},
 {"width": 289, "height": 216, "title": {"text": "(b) 0.04 g/ml", "frame": "group", "dx": 16, "offset": 41},
  "layer": [
   {"data": {"name": "e5"}, "mark": {"type": "point", "filled": true, "opacity": 1, "strokeWidth": 1, "size": 64},
    "encoding": {"x": {"field": "z", "type": "quantitative", "scale": {"domain": [-0.1, 0.1], "nice": false, "zero": false}, "axis": {"orient": "bottom", "values": [-0.1, -0.05, 0, 0.05, 0.1], "labelExpr": "'' + datum.value"}},
     "y": {"field": "T", "type": "quantitative", "scale": {"domain": [0.142, 1.543], "nice": false, "zero": false}, "axis": {"orient": "left", "values": [0.2, 0.4, 0.6, 0.8, 1, 1.2, 1.4], "labelExpr": "'' + datum.value", "minExtent": 24, "maxExtent": 24}},
     "fill": {"datum": "Experimental data", "scale": {"domain": ["Experimental data", "Theoretical fit"], "range": ["#9400d3", "#009e73"]}, "legend": {"orient": "none", "legendX": 269, "legendY": -1}},
     "stroke": {"datum": "Experimental data", "scale": {"domain": ["Experimental data", "Theoretical fit"], "range": ["#9400d3", "#009e73"]}},
     "shape": {"datum": "Experimental data", "scale": {"domain": ["Experimental data", "Theoretical fit"], "range": ["M-0.45,-0.45L0.45,-0.45L0.45,0.45L-0.45,0.45Z", "M-2.75,0L2.75,0"]}}}},
   {"data": {"name": "f5"}, "mark": {"type": "line", "strokeWidth": 2, "interpolate": "monotone"},
    "encoding": {"x": {"field": "z", "type": "quantitative", "axis": {"orient": "top", "values": [-0.1, -0.05, 0, 0.05, 0.1], "labels": false, "minExtent": 0, "maxExtent": 0}},
     "y": {"field": "T", "type": "quantitative", "axis": {"orient": "right", "values": [0.2, 0.4, 0.6, 0.8, 1, 1.2, 1.4], "labels": false, "minExtent": 5, "maxExtent": 5}},
     "stroke": {"datum": "Theoretical fit"}}}
  ],
  "resolve": {"axis": {"x": "independent", "y": "independent"}}},
 {"width": 287, "height": 215, "title": {"text": "(c) 0.12 g/ml", "frame": "group", "dx": 17, "offset": 41},
  "layer": [
   {"data": {"name": "e6"}, "mark": {"type": "point", "filled": true, "opacity": 1, "strokeWidth": 1, "size": 64},
    "encoding": {"x": {"field": "z", "type": "quantitative", "scale": {"domain": [-0.1, 0.1], "nice": false, "zero": false}, "axis": {"orient": "bottom", "values": [-0.1, -0.05, 0, 0.05, 0.1], "labelExpr": "'' + datum.value"}},
     "y": {"field": "T", "type": "quantitative", "scale": {"domain": [0, 1.8], "nice": false, "zero": false}, "axis": {"orient": "left", "values": [0, 0.2, 0.4, 0.6, 0.8, 1, 1.2, 1.4, 1.6, 1.8], "labelExpr": "'' + datum.value", "minExtent": 24, "maxExtent": 24}},
     "fill": {"datum": "Experimental data", "scale": {"domain": ["Experimental data", "Theoretical fit"], "range": ["#9400d3", "#009e73"]}, "legend": {"orient": "none", "legendX": 267, "legendY": -1}},
     "stroke": {"datum": "Experimental data", "scale": {"domain": ["Experimental data", "Theoretical fit"], "range": ["#9400d3", "#009e73"]}},
     "shape": {"datum": "Experimental data", "scale": {"domain": ["Experimental data", "Theoretical fit"], "range": ["M-0.45,-0.45L0.45,-0.45L0.45,0.45L-0.45,0.45Z", "M-2.75,0L2.75,0"]}}}},
   {"data": {"name": "f6"}, "mark": {"type": "line", "strokeWidth": 2, "interpolate": "monotone"},
    "encoding": {"x": {"field": "z", "type": "quantitative", "axis": {"orient": "top", "values": [-0.1, -0.05, 0, 0.05, 0.1], "labels": false, "minExtent": 0, "maxExtent": 0}},
     "y": {"field": "T", "type": "quantitative", "axis": {"orient": "right", "values": [0, 0.2, 0.4, 0.6, 0.8, 1, 1.2, 1.4, 1.6, 1.8], "labels": false, "minExtent": 0, "maxExtent": 0}},
     "stroke": {"datum": "Theoretical fit"}}}
  ],
  "resolve": {"axis": {"x": "independent", "y": "independent"}}}
 ],
 "spacing": 48,
 "resolve": {"scale": {"fill": "independent", "stroke": "independent", "shape": "independent"}, "legend": {"fill": "independent", "stroke": "independent", "shape": "independent"}}}
],
"spacing": 13,
"resolve": {"scale": {"fill": "independent", "stroke": "independent", "shape": "independent"}, "legend": {"fill": "independent", "stroke": "independent", "shape": "independent"}},
"config": {
 "view": {"stroke": "#333", "strokeWidth": 1},
 "axis": {"domain": false, "grid": false, "title": null, "labelFont": "Liberation Sans", "labelFontSize": 8, "labelColor": "#333", "tickColor": "#555", "tickSize": -4, "labelPadding": 8},
 "legend": {"title": null, "labelFont": "Liberation Sans", "labelFontSize": 8, "labelColor": "#333", "padding": 0, "rowPadding": -1, "symbolSize": 64, "labelAlign": "right", "labelOffset": -23, "symbolStrokeWidth": 2},
 "title": {"orient": "bottom", "anchor": "start", "font": "DejaVu Serif", "fontSize": 22, "fontWeight": "bold", "color": "black"}
}
}
